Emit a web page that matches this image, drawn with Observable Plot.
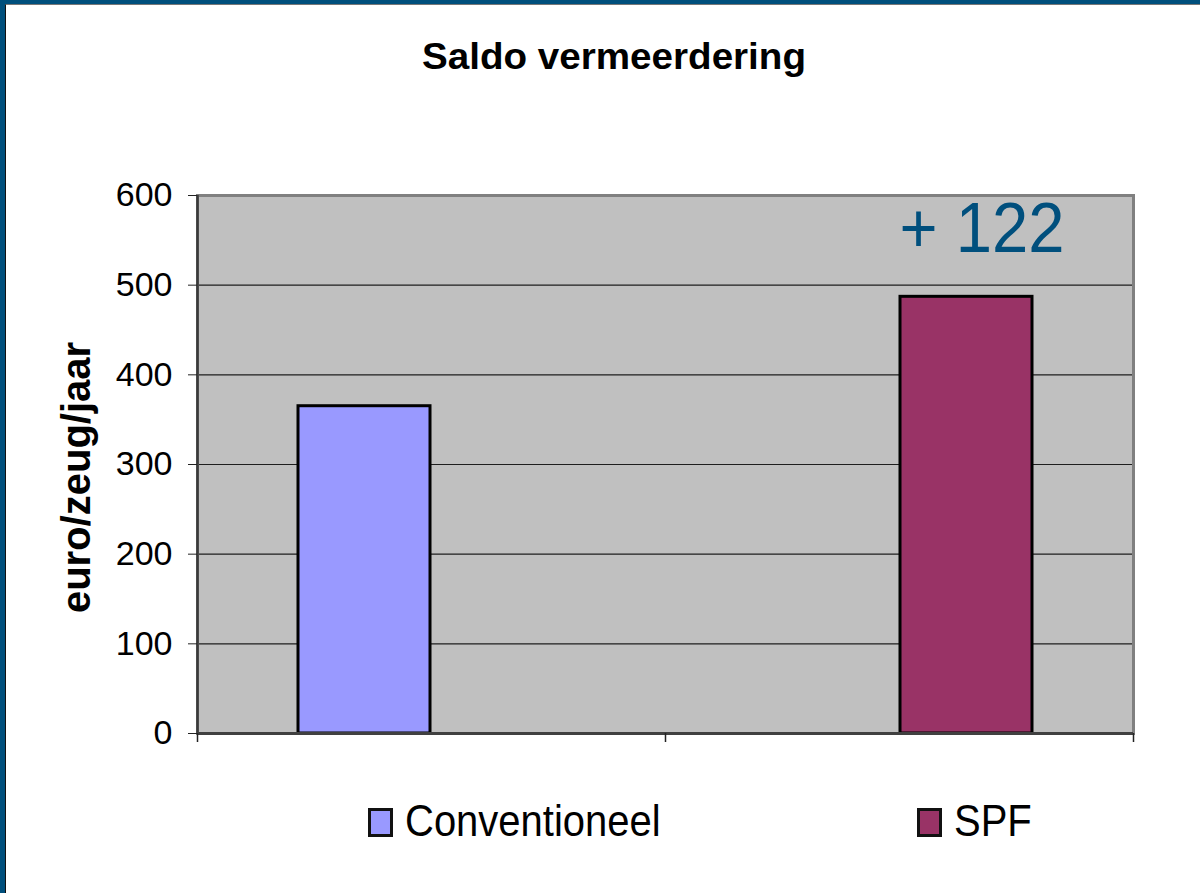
<!DOCTYPE html>
<html>
<head>
<meta charset="utf-8">
<script src="https://cdn.jsdelivr.net/npm/d3@7"></script>
<script src="https://cdn.jsdelivr.net/npm/@observablehq/plot@0.6"></script>
<style>
  html, body { margin: 0; padding: 0; background: #fff; }
  #page { position: relative; width: 1200px; height: 893px; overflow: hidden; background: #fff;
          font-family: "Liberation Sans", Arial, sans-serif; }
  #border { position: absolute; left: 0; top: 0; right: 0; bottom: 0; pointer-events: none;
            border-left: 5px solid #004f7c; border-top: 4px solid #004f7c; }
  #inner { position: absolute; left: 5px; top: 4px; right: 0; bottom: 0; pointer-events: none;
           border-left: 1.5px solid #111; border-top: 1px solid #777; }
  svg { display: block; }
</style>
</head>
<body>
<div id="page">
  <div id="title"></div>
  <div id="chart"></div>
  <div id="legend"></div>
  <div id="border"></div>
  <div id="inner"></div>
</div>
<script>
const titleText = "Saldo vermeerdering";
const yLabel = "euro/zeug/jaar";
const categories = ["Conventioneel", "SPF"];
const values = [365, 487];
const colors = ["#9999FF", "#993366"];
const yTicks = [0, 100, 200, 300, 400, 500, 600];

const data = categories.map((c, i) => ({category: c, i, i1: i + 1, value: values[i], color: colors[i]}));
const diffLabel = `+ ${values[1] - values[0]}`;

// Title
const tsvg = d3.create("svg").attr("width", 1200).attr("height", 110);
tsvg.append("text")
  .attr("x", 614).attr("y", 69)
  .attr("text-anchor", "middle")
  .attr("font-family", "Liberation Sans, Arial, sans-serif")
  .attr("font-weight", "bold")
  .attr("font-size", 36)
  .attr("textLength", 384)
  .attr("lengthAdjust", "spacingAndGlyphs")
  .text(titleText);
document.getElementById("title").append(tsvg.node());

// Chart
const chart = Plot.plot({
  width: 1200,
  height: 660,
  marginTop: 85,
  marginBottom: 37,
  marginLeft: 197,
  marginRight: 67,
  style: {fontFamily: "Liberation Sans, Arial, sans-serif", background: "transparent", color: "black"},
  x: {domain: [0, categories.length], axis: null},
  y: {domain: [0, 600], axis: null},
  color: {type: "identity"},
  marks: [
    Plot.frame({fill: "#C0C0C0"}),
    Plot.gridY(yTicks, {stroke: "#1e1e1e", strokeOpacity: 1, strokeWidth: 1.2}),
    Plot.frame({stroke: "#808080", strokeWidth: 3}),
    Plot.rectY(data.filter(d => d.i === 0), {x1: "i", x2: "i1", y: "value", fill: "color", stroke: "black", strokeWidth: 3, insetLeft: 101, insetRight: 235}),
    Plot.rectY(data.filter(d => d.i === 1), {x1: "i", x2: "i1", y: "value", fill: "color", stroke: "black", strokeWidth: 3, insetLeft: 235, insetRight: 101}),
    Plot.ruleX([0], {stroke: "#3a3a3a", strokeWidth: 2.5}),
    Plot.ruleY([0], {stroke: "#404040", strokeWidth: 3}),
    Plot.axisY(yTicks, {tickSize: 9, tickPadding: 16, fontSize: 34, label: null, stroke: "#222"}),
    Plot.axisX(d3.range(categories.length + 1), {tickSize: 9, tickFormat: () => "", label: null, stroke: "#222", strokeWidth: 1.5}),
    Plot.text([yLabel], {frameAnchor: "left", textAnchor: "middle", lineAnchor: "middle", rotate: -90, dx: -120, dy: 13, fontSize: 40, fontWeight: "bold"}),
    Plot.text([{i: 1, label: diffLabel}], {x: "i", text: "label", frameAnchor: "top", textAnchor: "start", lineAnchor: "top", dx: 234, dy: 6, fontSize: 71, fill: "#004f7d"})
  ]
});
d3.select(chart).selectAll("text").filter(function() { return this.textContent === diffLabel; })
  .attr("textLength", 165).attr("lengthAdjust", "spacingAndGlyphs");
document.getElementById("chart").append(chart);

// Legend
const lsvg = d3.create("svg").attr("width", 1200).attr("height", 123);
const legendPos = [368, 917];
categories.forEach((c, i) => {
  lsvg.append("rect")
    .attr("x", legendPos[i] + 1.5).attr("y", 39.5)
    .attr("width", 22).attr("height", 26)
    .attr("fill", colors[i]).attr("stroke", "#111").attr("stroke-width", 3);
  lsvg.append("text")
    .attr("transform", `translate(${legendPos[i] + 37},66) scale(1,1.12)`)
    .attr("font-family", "Liberation Sans, Arial, sans-serif")
    .attr("font-size", 40)
    .text(c);
});
document.getElementById("legend").append(lsvg.node());
</script>
</body>
</html>
